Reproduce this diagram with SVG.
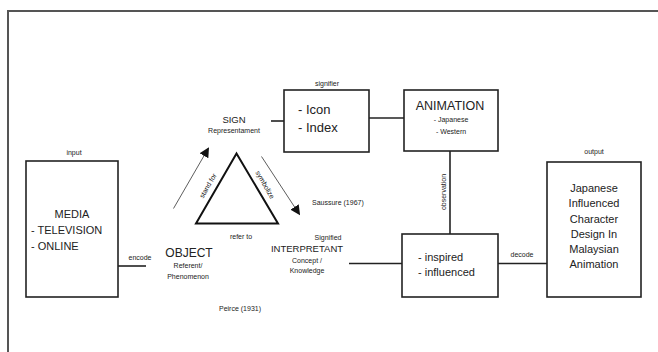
<svg xmlns="http://www.w3.org/2000/svg" width="658" height="352" viewBox="0 0 658 352">
<defs>
<style>
text{font-family:"Liberation Sans",Arial,sans-serif;fill:#222;}
.box{fill:#fff;stroke:#222;stroke-width:1.6;}
.ln{stroke:#222;stroke-width:1.6;fill:none;}
.thin{stroke:#333;stroke-width:0.8;fill:none;}
.s{font-size:7px;}
.m{font-size:11px;}
.b{font-size:12.5px;}
.c{text-anchor:middle;}
</style>
<marker id="ah" viewBox="0 0 10 10" refX="9" refY="5" markerWidth="10" markerHeight="10" markerUnits="userSpaceOnUse" orient="auto">
<path d="M0,0 L10,5 L0,10 z" fill="#111"/>
</marker>
</defs>
<rect width="658" height="352" fill="#fff"/>
<path d="M8,352 L8,11 L658,11" fill="none" stroke="#555" stroke-width="2"/>

<g id="connectors">
<line class="ln" x1="118" y1="266" x2="146" y2="266"/>
<line class="ln" x1="271" y1="121" x2="284" y2="121"/>
<line class="ln" x1="369" y1="118" x2="404" y2="118"/>
<line class="ln" x1="450" y1="151" x2="450" y2="234"/>
<line class="ln" x1="349" y1="263.5" x2="402" y2="263.5"/>
<line class="ln" x1="498" y1="263.5" x2="547" y2="263.5"/>
<line class="thin" x1="173.5" y1="208.5" x2="208.5" y2="148" marker-end="url(#ah)"/>
<line class="thin" x1="261.5" y1="156.5" x2="299.5" y2="214.5" marker-end="url(#ah)"/>
<text class="s c" x="140" y="260">encode</text>
<text class="s c" x="522" y="257">decode</text>
<text class="s c" transform="translate(446,192) rotate(-90)">observation</text>
<text class="s c" transform="translate(210,187) rotate(-60)">stand for</text>
<text class="s c" transform="translate(263,186) rotate(60)">symbolize</text>
<text class="s c" x="241" y="239">refer to</text>
</g>

<g id="media">
<rect class="box" x="26" y="161" width="92" height="136"/>
<text class="s c" x="74" y="155">input</text>
<text class="m c" x="72" y="218">MEDIA</text>
<text class="m" x="31" y="234">- TELEVISION</text>
<text class="m" x="31" y="250">- ONLINE</text>
</g>

<g id="triangle">
<polygon points="236.5,153.5 196,223.5 278,223.5" fill="none" stroke="#111" stroke-width="2"/>
</g>

<g id="object">
<text class="b c" x="189" y="257" style="font-size:12px">OBJECT</text>
<text class="s c" x="188" y="268">Referent/</text>
<text class="s c" x="188" y="279">Phenomenon</text>
</g>

<g id="sign">
<text class="c" x="234" y="123" style="font-size:9.5px">SIGN</text>
<text class="s c" x="234" y="133">Representament</text>
</g>

<g id="interpretant">
<text class="s c" x="328" y="240">Signified</text>
<text class="c" x="307" y="252" style="font-size:9.5px">INTERPRETANT</text>
<text class="s c" x="307" y="263">Concept /</text>
<text class="s c" x="307" y="273">Knowledge</text>
</g>

<g id="icon">
<rect class="box" x="284" y="90" width="85" height="62"/>
<text class="s c" x="327" y="86">signifier</text>
<text x="298" y="114" style="font-size:13px">- Icon</text>
<text x="298" y="132" style="font-size:13px">- Index</text>
</g>

<g id="animation">
<rect class="box" x="404" y="90" width="94" height="61"/>
<text class="c" x="450" y="110" style="font-size:12.5px">ANIMATION</text>
<text class="s c" x="451" y="122">- Japanese</text>
<text class="s c" x="451" y="134">- Western</text>
</g>

<g id="inspired">
<rect class="box" x="402" y="234" width="96" height="63"/>
<text class="m" x="418" y="261">- inspired</text>
<text class="m" x="418" y="276">- influenced</text>
</g>

<g id="output">
<rect class="box" x="547" y="162" width="94" height="135"/>
<text class="s c" x="594" y="154">output</text>
<text class="m c" x="594" y="192">Japanese</text>
<text class="m c" x="594" y="207">Influenced</text>
<text class="m c" x="594" y="223">Character</text>
<text class="m c" x="594" y="238">Design In</text>
<text class="m c" x="594" y="253">Malaysian</text>
<text class="m c" x="594" y="268">Animation</text>
</g>

<g id="notes">
<text class="s" x="312" y="205">Saussure (1967)</text>
<text class="s c" x="240" y="311">Peirce (1931)</text>
</g>
</svg>
